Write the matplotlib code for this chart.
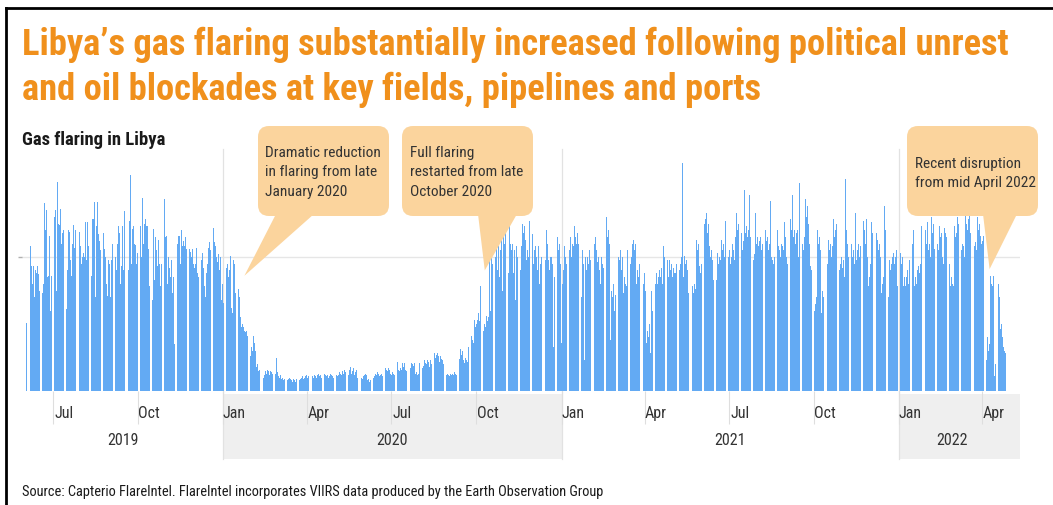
import numpy as np
import matplotlib
matplotlib.use("Agg")
import matplotlib.pyplot as plt
import matplotlib.dates as mdates
import matplotlib.transforms as mtransforms
from matplotlib import font_manager
from matplotlib.patches import FancyBboxPatch, Polygon, Rectangle
from matplotlib.lines import Line2D
from matplotlib.ticker import FixedLocator, FixedFormatter, NullFormatter

# ---------------------------------------------------------------- data
# Daily gas-flaring index (relative units, gridline = 100), from 2 June 2019
START_DATE = "2019-06-02"

flaring_2019 = [
    51, 33, 45, 110, 117, 108, 93, 80, 93, 70,
    90, 88, 93, 87, 75, 95, 63, 58, 73, 80,
    140, 120, 135, 85, 86, 116, 60, 86, 105, 105,
    135, 130, 135, 75, 156, 125, 124, 136, 110, 118,
    120, 135, 128, 120, 61, 90, 120, 119, 98, 86,
    110, 124, 107, 120, 126, 120, 127, 115, 119, 108,
    95, 100, 103, 100, 126, 98, 126, 108, 100, 86,
    112, 86, 128, 128, 141, 70, 123, 141, 117, 112,
    105, 115, 122, 110, 118, 106, 100, 80, 71, 98,
    95, 70, 98, 110, 146, 108, 120, 100, 90, 110,
    123, 118, 80, 93, 123, 90, 134, 105, 80, 110,
    111, 90, 127, 161, 95, 121, 123, 110, 109, 95,
    103, 98, 108, 85, 123, 100, 144, 110, 125, 128,
    123, 123, 106, 78, 70, 60, 68, 68, 121, 83,
    115, 105, 93, 113, 95, 78, 95, 103, 110, 96,
    143, 115, 116, 80, 100, 92, 85, 98, 73, 85,
    35, 43, 118, 98, 110, 116, 116, 95, 120, 108,
    112, 108, 115, 106, 120, 150, 110, 106, 104, 100,
    106, 95, 92, 95, 107, 88, 85, 90, 80, 103,
    98, 103, 92, 78, 70, 88, 95, 107, 111, 105,
    110, 120, 118, 122, 111, 108, 100, 96, 102, 90,
    100, 68, 80,
]

flaring_2020 = [
    66, 70, 92, 88, 92, 95, 85, 90, 101,
    62, 58, 98, 95, 73, 80, 76, 78,
    76, 70, 55, 48, 50, 48, 45, 44,
    45, 41, 38, 40, 41, 26, 33, 30,
    41, 36, 30, 18, 20, 15, 16, 12, 14, 11,
    13, 10, 12, 15, 13, 16, 15, 12, 15, 14,
    13, 12, 14, 11, 13, 25, 14, 11, 10, 12,
    9, 10, 8, 9, 11, 10, 9, 8, 9, 10,
    9, 8, 7, 9, 8, 7, 9, 8, 10, 9,
    8, 9, 10, 11, 9, 10, 11, 12, 10, 11,
    11, 9, 10, 12, 11, 10, 12, 11, 10, 12,
    13, 11, 12, 10, 13, 12, 11, 13, 12, 11,
    12, 10, 11, 13, 12, 11, 10, 12, 11, 13,
    12, 11, 12, 14, 13, 12, 15, 13, 16, 14, 13, 15,
    14, 12, 16, 18, 13, 15, 17, 12, 14, 16,
    10, 11, 9, 10, 12, 10, 9, 11, 12, 13,
    12, 8, 9, 7, 8, 9, 11, 12, 10, 11,
    13, 12, 14, 13, 11, 12, 13, 11, 12, 14,
    12, 17, 16, 15, 17, 16, 13, 12, 14, 13,
    12, 23, 20, 18, 22, 16, 15, 17, 16, 21,
    18, 21, 16, 15, 17, 16, 19, 18, 17, 21,
    20, 19, 21, 13, 14, 12, 13, 21, 19, 20,
    18, 17, 19, 23, 21, 20, 23, 22, 18, 23,
    20, 26, 24, 22, 28, 25, 27, 28, 26, 22,
    26, 24, 23, 20, 22, 13, 14, 12, 13, 12,
    11, 13, 12, 13, 12, 14, 13, 12, 21, 19,
    26, 24, 31, 27, 30, 23, 21, 25, 23, 22,
    33, 30, 28, 35, 41, 38, 36, 53, 48, 50,
    53, 58, 52, 78, 56, 50, 48, 45, 50, 48,
    56, 52, 55, 98, 60, 101, 95, 70, 101, 113,
    100, 113, 90, 108, 85, 105, 123, 75, 123, 110,
    125, 95, 120, 128, 88, 128, 110, 105,
    110, 88, 105, 68, 108, 100, 108, 70, 105, 90, 108,
    125, 118, 123, 113, 98, 105, 100, 127, 115, 110,
    68, 117, 95, 105, 108, 100, 90, 108, 80, 95, 100,
    126, 120, 125, 130, 98, 120, 110, 98, 90, 100,
    100, 95, 33, 85, 96, 90, 98, 115, 105, 110, 95,
]

flaring_2021 = [
    36, 80, 90, 108, 100, 95, 105, 96, 118, 105,
    115, 100, 110, 108, 123, 115, 110, 118, 110, 85, 100,
    140, 70, 105, 95, 23, 100, 90, 100, 95, 105, 98,
    73, 90, 85, 120, 110, 115, 105, 96, 100, 90,
    80, 100, 95, 92, 93, 88, 98, 130, 115, 120, 110,
    38, 75, 70, 80, 60, 72, 65, 105, 95, 100, 98,
    105, 90, 100, 73, 85, 80, 78, 105, 98, 100,
    103, 95, 100, 110, 113, 105, 110, 80, 90, 85, 95,
    100, 92, 95, 85, 80, 88, 75, 36, 45, 40, 50,
    28, 75, 60, 48, 70, 65, 80, 88, 80, 85,
    90, 85, 92, 80, 108, 100, 105, 96, 90, 98, 85,
    98, 90, 95, 85, 92, 88,
    88, 95, 80, 92, 85, 90, 95, 100, 170, 85,
    101, 95, 98, 90, 73, 78, 70, 75, 142, 78,
    73, 80, 76, 113, 105, 110, 93, 88, 95, 90,
    131, 120, 125, 128, 133, 118, 125, 108, 100, 105,
    98, 83, 80, 85, 78, 83, 103, 95, 100, 98,
    113, 105, 110, 100, 127, 108, 103, 98, 100, 105,
    95, 100, 110, 105, 98, 115, 133, 120, 125, 118,
    110, 115, 118, 105, 112, 150, 118, 123, 115, 120,
    146, 115, 100, 95, 105, 98, 102, 133, 110, 115,
    108, 112, 115, 105, 110, 120, 115, 108, 120, 112,
    115, 105, 110, 142, 100, 98, 95, 100, 92, 98,
    136, 120, 108, 105, 100, 110, 108, 105, 126, 115,
    100, 95, 105, 98, 110, 128, 120, 146, 115, 120,
    110, 118, 120, 100, 155, 130, 125, 123, 110, 105,
    115, 143, 130, 138, 125, 110, 93, 90, 95, 88,
    56, 60, 65, 70, 120, 110, 115, 105, 58, 75,
    70, 53, 60, 65, 80, 95, 113, 105, 110, 100,
    108, 128, 115, 120, 125, 118, 128, 110,
    90, 95, 100, 92, 98, 85, 158, 120, 110,
    100, 78, 85, 80, 110, 100, 105, 95, 133, 98,
    105, 110, 100, 108, 95, 148, 115, 127, 120, 110,
    128, 100, 78, 85, 95, 126, 118, 120, 110, 142,
    125, 118, 113, 105, 110, 100, 73, 80, 85, 138,
    120, 115, 68, 75, 70, 98, 90, 95, 100, 103,
    95, 100, 105, 78, 85,
]

flaring_2022 = [
    98, 90, 103, 95, 100, 78, 85,
    78, 85, 90, 80, 98, 92, 95, 131, 110, 120,
    78, 85, 80, 90, 93, 88, 95, 123, 110, 118,
    115, 126, 120, 110, 126, 105, 110, 100, 130, 118,
    125, 106, 100, 98, 106, 110, 105, 123, 115, 118,
    100, 95, 122, 118, 115, 120, 98, 92, 95, 78,
    85, 80, 78, 123, 115, 118, 130, 125, 120, 128,
    113, 105, 110, 108, 100, 131, 125, 120, 128, 131,
    118, 120, 111, 105, 100, 108, 111, 105, 130, 120,
    125, 116, 110, 112, 116, 103, 98, 103, 23, 40,
    30, 35, 86, 80, 78, 86, 11, 20, 15, 80,
    75, 80, 70, 46, 50, 40, 33, 30, 28,
]

tick_dates = ["2019-07-01", "2019-10-01", "2020-01-01", "2020-04-01",
              "2020-07-01", "2020-10-01", "2021-01-01", "2021-04-01",
              "2021-07-01", "2021-10-01", "2022-01-01", "2022-04-01"]
tick_labels = ["Jul", "Oct", "Jan", "Apr", "Jul", "Oct",
               "Jan", "Apr", "Jul", "Oct", "Jan", "Apr"]
year_labels = ["2019", "2020", "2021", "2022"]
year_starts = ["2020-01-01", "2021-01-01", "2022-01-01"]

title_lines = ["Libya\u2019s gas flaring substantially increased following political unrest",
               "and oil blockades at key fields, pipelines and ports"]
subtitle = "Gas flaring in Libya"
source_note = ("Source: Capterio FlareIntel. FlareIntel incorporates VIIRS data "
               "produced by the Earth Observation Group")
callouts = [
    ("Dramatic reduction\nin flaring from late\nJanuary 2020", "2020-01-24", 86),
    ("Full flaring\nrestarted from late\nOctober 2020", "2020-10-10", 90),
    ("Recent disruption\nfrom mid April 2022", "2022-04-09", 91),
]

# ---------------------------------------------------------------- fonts
def pick_narrow_family():
    entries = font_manager.fontManager.ttflist
    names = {e.name for e in entries}
    for cand in ("Liberation Sans Narrow", "Roboto Condensed", "Open Sans Condensed",
                 "Noto Sans Condensed", "Arial Narrow"):
        if cand in names:
            return cand, "normal"
    for fam in ("Noto Sans", "Open Sans", "DejaVu Sans", "Roboto", "Inter"):
        for e in entries:
            if e.name == fam and str(e.stretch) in ("condensed", "semi-condensed",
                                                    "extra-condensed"):
                return fam, str(e.stretch)
    return "Liberation Sans", "normal"


FAMILY, STRETCH = pick_narrow_family()
plt.rcParams["font.family"] = [FAMILY, "DejaVu Sans"]
plt.rcParams["font.stretch"] = STRETCH


def fp(size, weight="normal"):
    return font_manager.FontProperties(family=[FAMILY, "DejaVu Sans"], stretch=STRETCH,
                                       weight=weight, size=size)


# ---------------------------------------------------------------- figure
W, H = 1053, 506
fig = plt.figure(figsize=(W / 100, H / 100), dpi=100)
fig.patch.set_facecolor("white")

AX_L, AX_R, AX_T, AX_B = 22, 1020, 150, 392
ax = fig.add_axes([AX_L / W, 1 - AX_B / H, (AX_R - AX_L) / W, (AX_B - AX_T) / H])

values = np.array(flaring_2019 + flaring_2020 + flaring_2021 + flaring_2022, dtype=float)
start = np.datetime64(START_DATE)
dates = np.arange(start, start + len(values))
xnum = mdates.date2num(dates)

ax.bar(xnum, values, width=0.82, color="#63aaf3", linewidth=0, zorder=2)

jul19 = mdates.date2num(np.datetime64("2019-07-01"))
jan22 = mdates.date2num(np.datetime64("2022-01-01"))
px_per_day = (899 - 53) / (jan22 - jul19)
ax.set_xlim(jul19 - (53 - AX_L) / px_per_day, jan22 + (AX_R - 899) / px_per_day)
ax.set_ylim(0, 100 * (AX_B - AX_T) / 134.0)

for s in ax.spines.values():
    s.set_visible(False)
ax.set_facecolor("none")

# horizontal reference gridline with a small tick at the left
ax.set_yticks([100])
ax.set_yticklabels([""])
ax.tick_params(axis="y", length=3, width=1, color="#b0b0b0")
ax.axhline(100, color="#e6e6e6", lw=1, zorder=1)

# quarterly ticks with month labels offset to the right
tick_nums = mdates.date2num(np.array(tick_dates, dtype="datetime64[D]"))
ax.xaxis.set_major_locator(FixedLocator(tick_nums))
ax.xaxis.set_major_formatter(NullFormatter())
ax.xaxis.set_minor_locator(FixedLocator(tick_nums + 12))
ax.xaxis.set_minor_formatter(FixedFormatter(tick_labels))
ax.tick_params(axis="x", which="major", length=24, width=0.8, color="#dedede",
               direction="out")
ax.tick_params(axis="x", which="minor", length=0, pad=10, labelsize=11,
               labelcolor="#333333")

blend = mtransforms.blended_transform_factory(ax.transData, ax.transAxes)
band_top = -(395 - AX_B) / (AX_B - AX_T)
band_bot = -(460 - AX_B) / (AX_B - AX_T)

# shaded bands behind the 2020 and 2022 labels
ys = mdates.date2num(np.array(year_starts, dtype="datetime64[D]"))
xl, xr = ax.get_xlim()
for a, b in ((ys[0], ys[1]), (ys[2], xr)):
    ax.add_patch(Rectangle((a, band_bot), b - a, band_top - band_bot, transform=blend,
                           facecolor="#efefef", edgecolor="none", clip_on=False, zorder=0))

# year boundary lines
for y0 in ys:
    ax.add_line(Line2D([y0, y0], [band_bot, 1.0], transform=blend, color="#e2e2e2",
                       lw=0.9, clip_on=False, zorder=1))

# year labels centred under each year's span
first, last = xnum[0], xnum[-1]
spans = [(xl, ys[0]), (ys[0], ys[1]), (ys[1], ys[2]), (ys[2], last)]
year_y = -(441 - AX_B) / (AX_B - AX_T)
for lab, (a, b) in zip(year_labels, spans):
    ax.text((a + b) / 2, year_y, lab, transform=blend, ha="center", va="center",
            fontproperties=fp(11.5), color="#333333")

for lab in ax.get_xticklabels(minor=True):
    lab.set_fontproperties(fp(11.5))

# ---------------------------------------------------------------- text
renderer = fig.canvas.get_renderer()


def fit_width(txt, target):
    w = txt.get_window_extent(renderer).width
    txt.set_fontsize(txt.get_fontsize() * target / w)


ORANGE = "#f0901c"
t1 = fig.text(22 / W, 1 - 55 / H, title_lines[0], fontproperties=fp(24, "bold"),
              color=ORANGE, ha="left", va="baseline")
fit_width(t1, 991)
t2 = fig.text(22 / W, 1 - 100 / H, title_lines[1], fontproperties=fp(24, "bold"),
              color=ORANGE, ha="left", va="baseline")
t2.set_fontsize(t1.get_fontsize())

st = fig.text(22 / W, 1 - 140 / H, subtitle, fontproperties=fp(11, "bold"),
              color="#1a1a1a", ha="left", va="center")
fit_width(st, 143)

src = fig.text(22 / W, 1 - 492 / H, source_note, fontproperties=fp(9),
               color="#1a1a1a", ha="left", va="center")
fit_width(src, 583)

# ---------------------------------------------------------------- callouts
BOX = "#fbd49d"
ident = mtransforms.IdentityTransform()
boxes = [(258, 389, 127, 217, 276, 314, 265, 146),
         (402, 533, 127, 217, 478, 517, 410, 146),
         (907, 1038, 127, 217, 983, 1017, 915, 157)]
call_size = None
for (text, date, val), (bx0, bx1, by0, by1, pb0, pb1, tx, ty) in zip(callouts, boxes):
    fig.add_artist(FancyBboxPatch((bx0, H - by1), bx1 - bx0, by1 - by0,
                                  boxstyle="round,pad=0,rounding_size=11",
                                  facecolor=BOX, edgecolor="none", transform=ident,
                                  zorder=5))
    tip = ax.transData.transform((mdates.date2num(np.datetime64(date)), val))
    fig.add_artist(Polygon([(pb0, H - by1 + 2), (pb1, H - by1 + 2), tuple(tip)],
                           closed=True, facecolor=BOX, edgecolor="none",
                           transform=ident, zorder=5))
    ct = fig.text(tx, H - ty, text, transform=ident, fontproperties=fp(10),
                  color="#333333", ha="left", va="top", linespacing=1.5, zorder=6)
    if call_size is None:
        fit_width(ct, 115)
        call_size = ct.get_fontsize()
    else:
        ct.set_fontsize(call_size)

# ---------------------------------------------------------------- frame
fig.add_artist(Line2D([6, W], [H - 9, H - 9], transform=ident, color="black", lw=2.0))
fig.add_artist(Line2D([6, 6], [0, H - 9], transform=ident, color="black", lw=2.0))

fig.savefig("out.png", dpi=100, facecolor="white")
